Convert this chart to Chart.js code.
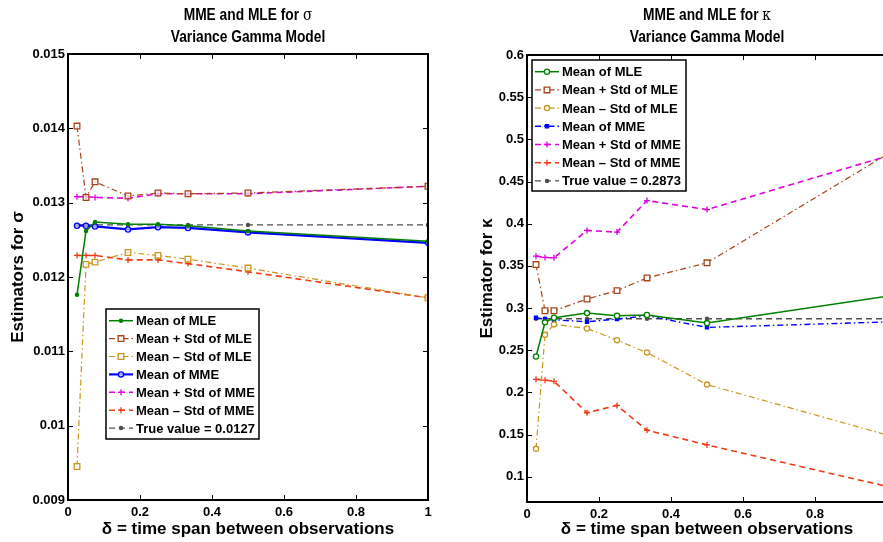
<!DOCTYPE html>
<html>
<head>
<meta charset="utf-8">
<script src="https://cdn.jsdelivr.net/npm/chart.js@4"></script>
<style>
html, body { margin: 0; padding: 0; width: 883px; height: 542px; overflow: hidden; background: #fff; }
.panel { position: absolute; top: 0; }
.ttl { position: absolute; top: 4px; width: 300px; text-align: center; font: bold 16px "Liberation Sans", Arial, sans-serif; line-height: 22px; transform: scaleX(0.86); }
.g { font-family: "DejaVu Serif", serif; font-weight: normal; }
</style>
</head>
<body>
<canvas id="c1" class="panel" width="450" height="542" style="left:0"></canvas>
<canvas id="c2" class="panel" width="470" height="542" style="left:440px"></canvas>
<div class="ttl" style="left:98px">MME and MLE for <span class="g">σ</span><br>Variance Gamma Model</div>
<div class="ttl" style="left:557px">MME and MLE for <span class="g">κ</span><br>Variance Gamma Model</div>
<script>
// time spans (delta) used in both panels
const deltas = [0.025, 0.05, 0.075, 0.1667, 0.25, 0.3333, 0.5, 1];

// sigma panel
const sigMleMean  = [0.01176, 0.01262, 0.01274, 0.01271, 0.01271, 0.01269, 0.01262, 0.01248];
const sigMlePlus  = [0.01403, 0.01307, 0.01328, 0.01309, 0.01313, 0.01312, 0.01313, 0.01322];
const sigMleMinus = [0.00945, 0.01217, 0.01220, 0.01233, 0.01229, 0.01224, 0.01212, 0.01172];
const sigMmeMean  = [0.01269, 0.01269, 0.01268, 0.01264, 0.01267, 0.01266, 0.01260, 0.01246];
const sigMmePlus  = [0.01308, 0.01308, 0.01307, 0.01306, 0.01312, 0.01312, 0.01312, 0.01322];
const sigMmeMinus = [0.01229, 0.01229, 0.01229, 0.01223, 0.01223, 0.01218, 0.01207, 0.01172];
const sigTrue = 0.0127;

// kappa panel
const kapMleMean  = [0.2425, 0.2830, 0.2885, 0.2940, 0.2908, 0.2917, 0.2821, 0.3140];
const kapMlePlus  = [0.3515, 0.2968, 0.2968, 0.3107, 0.3206, 0.3357, 0.3536, 0.4820];
const kapMleMinus = [0.1330, 0.2682, 0.2806, 0.2758, 0.2619, 0.2472, 0.2092, 0.1495];
const kapMmeMean  = [0.2885, 0.2869, 0.2860, 0.2837, 0.2869, 0.2908, 0.2770, 0.2835];
const kapMmePlus  = [0.3615, 0.3600, 0.3595, 0.3920, 0.3900, 0.4274, 0.4167, 0.4800];
const kapMmeMinus = [0.2155, 0.2145, 0.2131, 0.1758, 0.1845, 0.1551, 0.1377, 0.0885];
const kapTrue = 0.2873;

const labels = ['Mean of MLE', 'Mean + Std of MLE', 'Mean \u2013 Std of MLE',
                'Mean of MME', 'Mean + Std of MME', 'Mean \u2013 Std of MME'];

const FONT = '"Liberation Sans", Arial, sans-serif';
const dashDot = [6, 3, 1.5, 3];
const dashed = [6, 4];

function pts(ys) {
    return deltas.map((d, i) => ({ x: d, y: ys[i] }));
}

function series(label, ys, color, width, dash, style, radius, fill) {
    return {
        label: label,
        data: pts(ys),
        borderColor: color,
        borderWidth: width,
        borderDash: dash,
        pointStyle: style,
        pointRadius: radius,
        pointBorderWidth: 1.3,
        pointBorderColor: color,
        pointBackgroundColor: fill,
        tension: 0
    };
}

function marker(ctx, ds, x, y) {
    const r = ds.pointRadius;
    ctx.lineWidth = ds.pointBorderWidth;
    ctx.strokeStyle = ds.borderColor;
    ctx.fillStyle = ds.pointBackgroundColor;
    ctx.beginPath();
    if (ds.pointStyle === 'rect') {
        const s = r * Math.SQRT1_2;
        ctx.rect(x - s, y - s, 2 * s, 2 * s);
        ctx.fill();
    } else if (ds.pointStyle === 'cross') {
        ctx.moveTo(x - r, y); ctx.lineTo(x + r, y);
        ctx.moveTo(x, y - r); ctx.lineTo(x, y + r);
    } else {
        ctx.arc(x, y, r, 0, 2 * Math.PI);
        ctx.fill();
    }
    ctx.stroke();
}

// matlab style box with inward ticks
const boxAxes = {
    id: 'boxAxes',
    afterDatasetsDraw(chart, args, o) {
        const { ctx, chartArea: a } = chart;
        const x = chart.scales.x, y = chart.scales.y;
        ctx.save();
        ctx.strokeStyle = '#000';
        ctx.lineWidth = 1;
        ctx.beginPath();
        x.ticks.forEach(t => {
            const px = Math.round(x.getPixelForValue(t.value)) + 0.5;
            ctx.moveTo(px, a.bottom); ctx.lineTo(px, a.bottom - 5);
            ctx.moveTo(px, a.top); ctx.lineTo(px, a.top + 5);
        });
        y.ticks.forEach(t => {
            const py = Math.round(y.getPixelForValue(t.value)) + 0.5;
            ctx.moveTo(a.left, py); ctx.lineTo(a.left + 5, py);
            if (o.right) {
                ctx.moveTo(a.right, py); ctx.lineTo(a.right - 5, py);
            }
        });
        ctx.stroke();
        ctx.lineWidth = 2;
        ctx.strokeRect(a.left, a.top, a.right - a.left, a.bottom - a.top);
        ctx.restore();
    }
};

const boxLegend = {
    id: 'boxLegend',
    afterDraw(chart, args, o) {
        const ctx = chart.ctx;
        ctx.save();
        ctx.fillStyle = '#fff';
        ctx.fillRect(o.x, o.y, o.w, o.h);
        ctx.strokeStyle = '#000';
        ctx.lineWidth = 1.5;
        ctx.strokeRect(o.x, o.y, o.w, o.h);
        ctx.font = 'bold 13px ' + FONT;
        ctx.textBaseline = 'middle';
        chart.data.datasets.forEach((ds, i) => {
            const cy = o.y + o.first + i * o.row;
            const x0 = o.x + o.pad;
            ctx.strokeStyle = ds.borderColor;
            ctx.lineWidth = ds.borderWidth;
            ctx.setLineDash(ds.borderDash || []);
            ctx.beginPath();
            ctx.moveTo(x0, cy); ctx.lineTo(x0 + o.sample, cy);
            ctx.stroke();
            ctx.setLineDash([]);
            marker(ctx, ds, x0 + o.sample / 2, cy);
            ctx.fillStyle = '#000';
            ctx.fillText(ds.label, o.x + o.text, cy + 1);
        });
        ctx.restore();
    }
};

function makeChart(id, datasets, yOpt, yTitle, yWidth, yTitlePad, xHeight, padding, rightTicks, legendBox) {
    return new Chart(document.getElementById(id).getContext('2d'), {
        type: 'line',
        data: { datasets: datasets },
        plugins: [boxAxes, boxLegend],
        options: {
            responsive: false,
            animation: false,
            devicePixelRatio: 1,
            layout: { padding: padding },
            plugins: {
                legend: { display: false },
                tooltip: { enabled: false },
                boxAxes: { right: rightTicks },
                boxLegend: legendBox
            },
            scales: {
                x: {
                    type: 'linear',
                    min: 0,
                    max: 1,
                    grid: { display: false, drawTicks: false },
                    border: { display: false },
                    ticks: {
                        stepSize: 0.2,
                        padding: 5,
                        color: '#000',
                        font: { family: FONT, size: 13, weight: 'bold' },
                        maxRotation: 0,
                        callback: v => String(+v.toFixed(1))
                    },
                    title: {
                        display: true,
                        text: '\u03b4 = time span between observations',
                        color: '#000',
                        font: { family: FONT, size: 17, weight: 'bold' },
                        padding: { top: 0, bottom: 2 }
                    },
                    afterFit: s => { s.height = xHeight; }
                },
                y: {
                    type: 'linear',
                    min: yOpt.min,
                    max: yOpt.max,
                    grid: { display: false, drawTicks: false },
                    border: { display: false },
                    ticks: {
                        stepSize: yOpt.step,
                        includeBounds: false,
                        padding: 3,
                        color: '#000',
                        font: { family: FONT, size: 13, weight: 'bold' },
                        callback: v => String(+v.toFixed(yOpt.dec))
                    },
                    title: {
                        display: true,
                        text: yTitle,
                        color: '#000',
                        font: { family: FONT, size: 17, weight: 'bold' },
                        padding: { top: yTitlePad, bottom: 0 }
                    },
                    afterFit: s => { s.width = yWidth; }
                }
            }
        }
    });
}

const sigSets = [
    series(labels[0], sigMleMean, '#008000', 1.5, [], 'circle', 1.6, '#008000'),
    series(labels[1], sigMlePlus, '#A8441A', 1.2, dashDot, 'rect', 4, 'rgba(255,255,255,0.7)'),
    series(labels[2], sigMleMinus, '#C8961E', 1.2, dashDot, 'rect', 4, 'rgba(255,255,255,0.7)'),
    series(labels[3], sigMmeMean, '#0000FF', 2.2, [], 'circle', 2.6, 'rgba(255,255,255,0.6)'),
    series(labels[4], sigMmePlus, '#E000E0', 1.6, dashed, 'cross', 3, '#E000E0'),
    series(labels[5], sigMmeMinus, '#F03A14', 1.6, dashed, 'cross', 3, '#F03A14'),
    series('True value = 0.0127', deltas.map(() => sigTrue), '#505050', 1.3, dashed, 'circle', 1.6, '#505050')
];

const kapSets = [
    series(labels[0], kapMleMean, '#008000', 1.5, [], 'circle', 2.6, '#fff'),
    series(labels[1], kapMlePlus, '#A8441A', 1.2, dashDot, 'rect', 4, '#fff'),
    series(labels[2], kapMleMinus, '#C8961E', 1.2, dashDot, 'circle', 2.6, '#fff'),
    series(labels[3], kapMmeMean, '#0000FF', 1.4, dashDot, 'rect', 2.2, '#0000FF'),
    series(labels[4], kapMmePlus, '#E000E0', 1.6, dashed, 'cross', 3, '#E000E0'),
    series(labels[5], kapMmeMinus, '#F03A14', 1.6, dashed, 'cross', 3, '#F03A14'),
    series('True value = 0.2873', deltas.map(() => kapTrue), '#505050', 1.3, dashed, 'circle', 1.6, '#505050')
];

makeChart('c1', sigSets,
    { min: 0.009, max: 0.015, step: 0.001, dec: 4 },
    'Estimators for \u03c3', 68, 8, 42,
    { top: 54, right: 22, left: 0, bottom: 0 }, true,
    { x: 106, y: 309, w: 153, h: 130, first: 11.7, row: 17.9, pad: 3, sample: 24, text: 30 });

makeChart('c2', kapSets,
    { min: 0.07, max: 0.6, step: 0.05, dec: 2 },
    'Estimator for \u03ba', 87, 37, 40,
    { top: 55, right: 23, left: 0, bottom: 0 }, false,
    { x: 92, y: 60, w: 154, h: 131, first: 11.7, row: 18.2, pad: 3, sample: 24, text: 30 });
</script>
</body>
</html>
